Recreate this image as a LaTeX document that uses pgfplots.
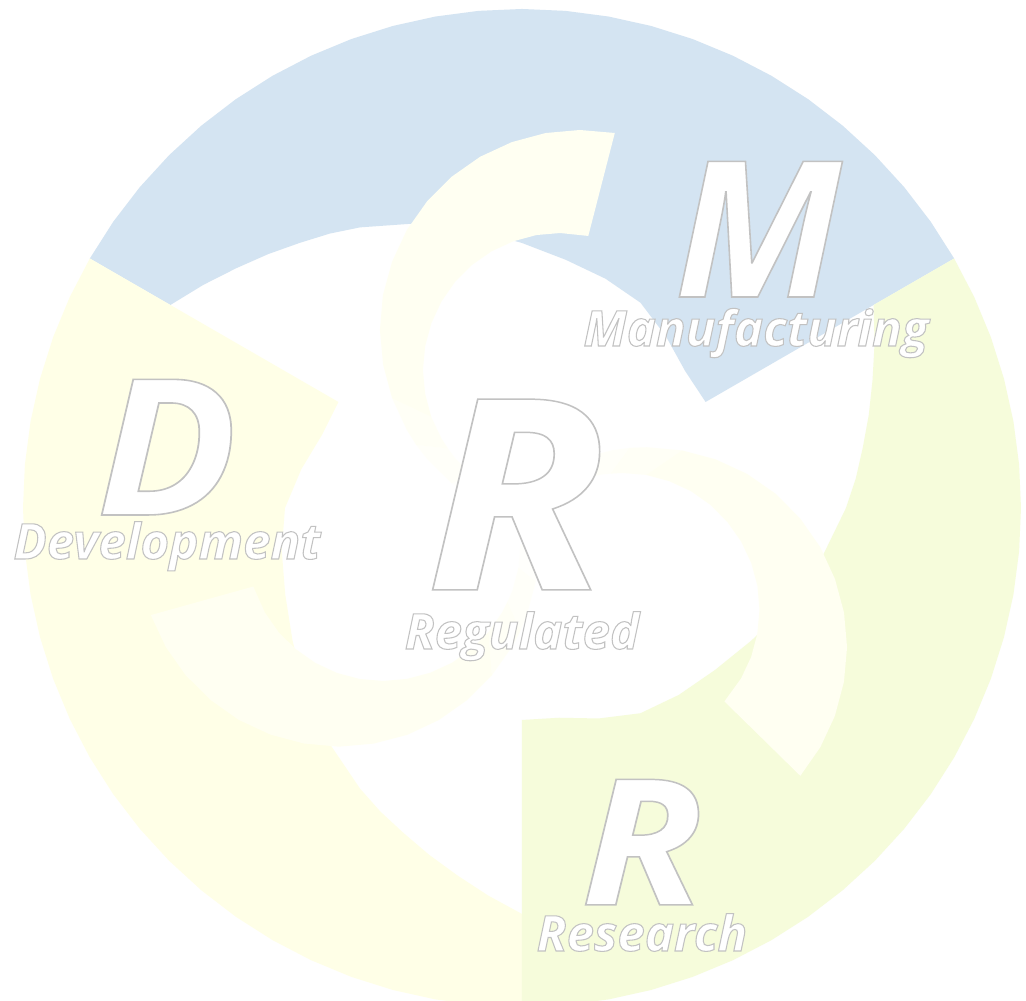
\documentclass[border=0pt]{standalone}
\usepackage{pgfplots}
\pgfplotsset{compat=1.18}
\usepackage{graphicx}
\usepackage{fontspec}
\setmainfont{Open Sans}
\definecolor{segblue}{RGB}{212,228,242}
\definecolor{segyellow}{RGB}{255,255,231}
\definecolor{seggreen}{RGB}{246,252,219}
\definecolor{hookc}{RGB}{255,255,242}
\newcommand{\hollow}[2]{\special{pdf:literal direct 0.76 G 2 Tr #1 w}#2\special{pdf:literal direct 0 Tr}}
\begin{document}
\begin{tikzpicture}
\begin{axis}[x=0.01cm, y=0.01cm, xmin=-522, xmax=504, ymin=-493, ymax=508,
  hide axis, clip=true, axis line style={draw=none}]
% background
\addplot[fill=white, draw=none] coordinates {(-522,-493) (504,-493) (504,508) (-522,508)};
% blue segment (Manufacturing)
\addplot[data cs=polar, fill=segblue, draw=none] coordinates {
(30,499) (35,499) (40,499) (45,499) (50,499) (55,499) (60,499) (65,499) (70,499) (75,499) (80,499) (85,499) (90,499) (95,499) (100,499) (105,499) (110,499) (115,499) (120,499) (125,499) (130,499) (135,499) (140,499) (145,499) (150,499)
(150,406) (145,389) (140,373) (135,359) (130,346) (125,335) (120,324) (110,303) (100,283) (90,265) (80,252) (70,244) (60,237) (50,224) (40,213) (30,212)};
% yellow segment (Development)
\addplot[data cs=polar, fill=segyellow, draw=none] coordinates {
(150,499) (155,499) (160,499) (165,499) (170,499) (175,499) (180,499) (185,499) (190,499) (195,499) (200,499) (205,499) (210,499) (215,499) (220,499) (225,499) (230,499) (235,499) (240,499) (245,499) (250,499) (255,499) (260,499) (265,499) (270,499)
(270,406) (265,389) (260,373) (255,359) (250,346) (245,335) (240,324) (230,303) (220,283) (210,265) (200,252) (190,244) (180,237) (170,224) (160,213) (150,212)};
% green segment (Research)
\addplot[data cs=polar, fill=seggreen, draw=none] coordinates {
(270,499) (275,499) (280,499) (285,499) (290,499) (295,499) (300,499) (305,499) (310,499) (315,499) (320,499) (325,499) (330,499) (335,499) (340,499) (345,499) (350,499) (355,499) (360,499) (365,499) (370,499) (375,499) (380,499) (385,499) (390,499)
(390,406) (385,389) (380,373) (375,359) (370,346) (365,335) (360,324) (350,303) (340,283) (330,265) (320,252) (310,244) (300,237) (290,224) (280,213) (270,212)};
% ---- top hook ----
\addplot[data cs=polar, fill=hookc, draw=none] coordinates {
(76.1,386.3) (81.3,382.4) (86.4,375.7) (91.6,366) (96.8,353.7) (102.0,338.6) (107.2,321) (112.5,300.9) (117.8,278.5) (123.2,254.1) (128.6,227.7) (134.1,199.6) (139.8,170)
(134.9,128.6) (130.3,149.8) (125.7,169.8) (120.9,188.6) (116.1,205.9) (111.3,221.7) (106.5,235.8) (101.7,248) (96.8,258.4) (91.9,266.8) (87.0,273.3) (82.1,277.6) (76.3,280)};
\addplot[data cs=polar, fill=hookc, draw=none, fill opacity=0.65] coordinates {
(139.8,170) (145.9,139.1) (149.2,123.2) (141.2,95) (139.2,106.4) (134.9,128.6)};
\addplot[data cs=polar, fill=hookc, draw=none, fill opacity=0.4] coordinates {
(149.2,123.2) (152.6,107.3) (160.6,74.8) (146.6,60) (143.3,83.5) (141.2,95)};
\addplot[data cs=polar, fill=hookc, draw=none, fill opacity=0.18] coordinates {
(160.6,74.8) (173.5,42.3) (147.5,36.1) (146.6,60)};
% ---- right hook ----
\addplot[data cs=polar, fill=hookc, draw=none] coordinates {
(-43.9,386.3) (-38.7,382.4) (-33.6,375.7) (-28.4,366) (-23.2,353.7) (-18.0,338.6) (-12.8,321) (-7.5,300.9) (-2.2,278.5) (3.2,254.1) (8.6,227.7) (14.1,199.6) (19.8,170)
(14.9,128.6) (10.3,149.8) (5.7,169.8) (0.9,188.6) (-3.9,205.9) (-8.7,221.7) (-13.5,235.8) (-18.3,248) (-23.2,258.4) (-28.1,266.8) (-33.0,273.3) (-37.9,277.6) (-43.7,280)};
\addplot[data cs=polar, fill=hookc, draw=none, fill opacity=0.65] coordinates {
(19.8,170) (25.9,139.1) (29.2,123.2) (21.2,95) (19.2,106.4) (14.9,128.6)};
\addplot[data cs=polar, fill=hookc, draw=none, fill opacity=0.4] coordinates {
(29.2,123.2) (32.6,107.3) (40.6,74.8) (26.6,60) (23.3,83.5) (21.2,95)};
\addplot[data cs=polar, fill=hookc, draw=none, fill opacity=0.18] coordinates {
(40.6,74.8) (53.5,42.3) (27.5,36.1) (26.6,60)};
% ---- lower-left hook ----
\addplot[data cs=polar, fill=hookc, draw=none] coordinates {
(196.1,386.3) (201.3,382.4) (206.4,375.7) (211.6,366) (216.8,353.7) (222.0,338.6) (227.2,321) (232.5,300.9) (237.8,278.5) (243.2,254.1) (248.6,227.7) (254.1,199.6) (259.8,170)
(254.9,128.6) (250.3,149.8) (245.7,169.8) (240.9,188.6) (236.1,205.9) (231.3,221.7) (226.5,235.8) (221.7,248) (216.8,258.4) (211.9,266.8) (207.0,273.3) (202.1,277.6) (196.3,280)};
\addplot[data cs=polar, fill=hookc, draw=none, fill opacity=0.65] coordinates {
(259.8,170) (265.9,139.1) (269.2,123.2) (261.2,95) (259.2,106.4) (254.9,128.6)};
\addplot[data cs=polar, fill=hookc, draw=none, fill opacity=0.4] coordinates {
(269.2,123.2) (272.6,107.3) (280.6,74.8) (266.6,60) (263.3,83.5) (261.2,95)};
\addplot[data cs=polar, fill=hookc, draw=none, fill opacity=0.18] coordinates {
(280.6,74.8) (293.5,42.3) (267.5,36.1) (266.6,60)};
\coordinate (O) at (axis cs:0,0);
\end{axis}
\begin{scope}[shift={(O)}, x=0.01cm, y=0.01cm]
\tikzset{lbl/.style={anchor=base, text=white, inner sep=0pt}}
\node[lbl, font=\fontsize{54}{54}\selectfont\bfseries\itshape] at (236,211) {\hollow{0.45}{M}};
\node[lbl, font=\fontsize{14}{14}\selectfont\bfseries\itshape] at (234,162) {\hollow{0.3}{Manufacturing}};
\node[lbl, font=\fontsize{54}{54}\selectfont\bfseries\itshape] at (-355,-7) {\scalebox{1.1}[1]{\hollow{0.45}{D}}};
\node[lbl, font=\fontsize{14}{14}\selectfont\bfseries\itshape] at (-355,-51) {\hollow{0.3}{Development}};
\node[lbl, font=\fontsize{76}{76}\selectfont\bfseries\itshape] at (-6,-82) {\scalebox{1.12}[1]{\hollow{0.42}{R}}};
\node[lbl, font=\fontsize{14}{14}\selectfont\bfseries\itshape] at (0,-141) {\hollow{0.3}{Regulated}};
\node[lbl, font=\fontsize{50}{50}\selectfont\bfseries\itshape] at (120,-397) {\scalebox{1.15}[1]{\hollow{0.42}{R}}};
\node[lbl, font=\fontsize{14}{14}\selectfont\bfseries\itshape] at (120,-443) {\hollow{0.3}{Research}};
\end{scope}
\end{tikzpicture}
\end{document}
